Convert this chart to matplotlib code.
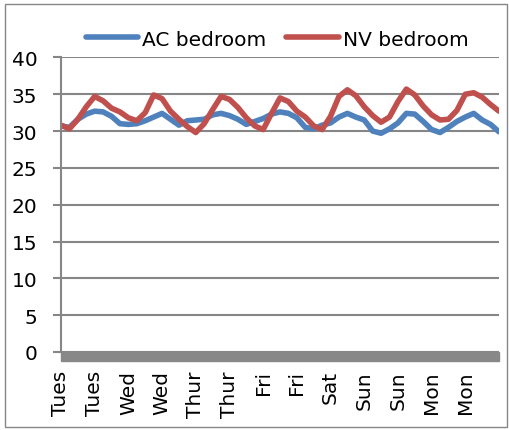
import matplotlib.pyplot as plt
from matplotlib.patches import Rectangle

# half-day readings, 4 samples per labelled interval
ac_bedroom = [30.7, 30.5, 31.6, 32.3, 32.7, 32.6, 32.0, 31.0, 30.9, 31.0,
              31.4, 31.9, 32.4, 31.6, 30.8, 31.4, 31.5, 31.6, 32.2, 32.4,
              32.1, 31.6, 30.9, 31.3, 31.7, 32.3, 32.6, 32.4, 31.8, 30.5,
              30.3, 30.8, 31.1, 31.9, 32.4, 31.9, 31.5, 30.0, 29.7, 30.3,
              31.1, 32.4, 32.3, 31.3, 30.2, 29.8, 30.5, 31.3, 31.9, 32.4,
              31.5, 30.9, 29.9]
nv_bedroom = [30.8, 30.3, 31.6, 33.3, 34.7, 34.1, 33.1, 32.6, 31.8, 31.4,
              32.5, 34.9, 34.4, 32.7, 31.6, 30.6, 29.8, 31.0, 32.9, 34.7,
              34.3, 33.2, 31.8, 30.7, 30.2, 32.4, 34.5, 34.0, 32.7, 31.9,
              30.7, 30.2, 32.0, 34.7, 35.6, 34.8, 33.3, 32.1, 31.2, 31.9,
              34.0, 35.7, 34.9, 33.4, 32.2, 31.5, 31.6, 32.8, 35.0, 35.2,
              34.6, 33.6, 32.7]
day_labels = ['Tues', 'Tues', 'Wed', 'Wed', 'Thur', 'Thur', 'Fri', 'Fri',
              'Sat', 'Sun', 'Sun', 'Mon', 'Mon']
per_label = 4

plt.rcParams['font.family'] = 'DejaVu Sans'
plt.rcParams['font.size'] = 14.5

W, H = 509, 431
fig = plt.figure(figsize=(W / 100, H / 100), dpi=100)
ax = fig.add_axes([61 / W, 1 - 353 / H, (499 - 61) / W, (353 - 58.4) / H])

xs = range(len(ac_bedroom))
ax.plot(xs, ac_bedroom, color='#4F81BD', lw=4, label='AC bedroom',
        solid_capstyle='round')
ax.plot(xs, nv_bedroom, color='#C0504D', lw=4, label='NV bedroom',
        solid_capstyle='round')

ax.set_xlim(0, len(ac_bedroom) - 1)
ax.set_ylim(0, 40)
ax.set_yticks(range(0, 41, 5))
ax.set_xticks(range(0, len(day_labels) * per_label, per_label))
ax.set_xticklabels(day_labels)
for t in ax.get_xticklabels():
    t.set_rotation(90)
    t.set_rotation_mode('anchor')
    t.set_ha('right')
    t.set_va('center')

grey = '#868686'
ax.grid(axis='y', color=grey, lw=1.5)
ax.set_axisbelow(True)
for s in ['top', 'right', 'bottom']:
    ax.spines[s].set_visible(False)
ax.spines['left'].set_color(grey)
ax.spines['left'].set_linewidth(1.5)
ax.tick_params(axis='y', length=6, width=1.5, color=grey, pad=11)
ax.tick_params(axis='x', length=0, pad=13)

# thick floor bar below zero
ax.add_patch(Rectangle((0, -9 / 295), 1, 9 / 295, transform=ax.transAxes,
                       color='#888888', clip_on=False))

fig.legend(loc='center', bbox_to_anchor=(277 / W, 1 - 40 / H), ncol=2,
           frameon=False, handlelength=2.6, handletextpad=0.2,
           columnspacing=1.0)

fig.patches.append(Rectangle((5 / W, 3 / H), 502 / W, 423 / H,
                             transform=fig.transFigure, fill=False,
                             edgecolor=grey, lw=1))

fig.savefig('out.png', dpi=100)
